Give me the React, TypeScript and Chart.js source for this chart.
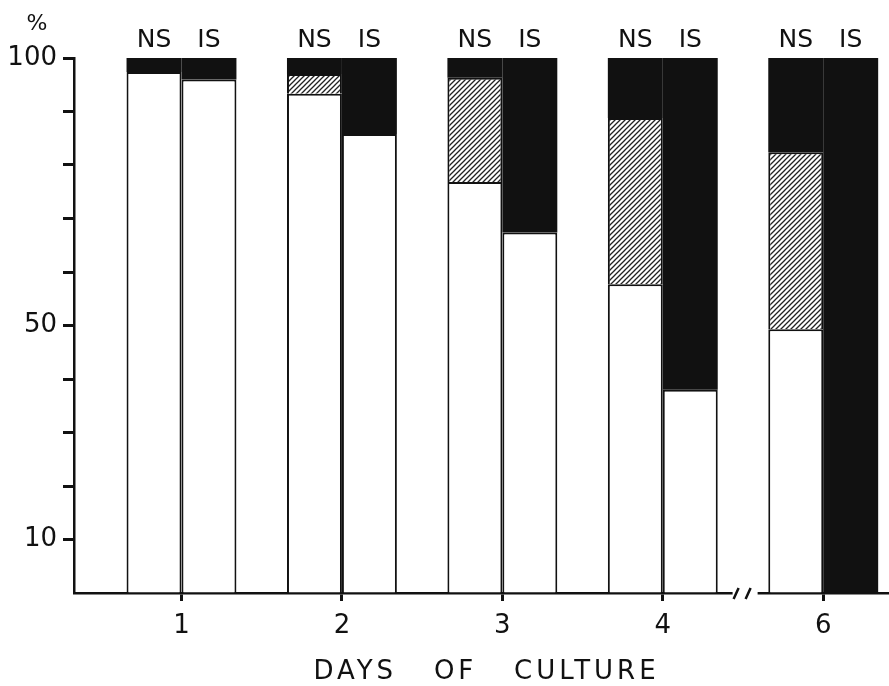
import React, { useEffect, useRef } from 'react';
import { Chart, registerables } from 'chart.js';

Chart.register(...registerables);

// ---- data ----
const dayLabels = ['1', '2', '3', '4', '6'];
const dayPositions = [1, 2, 3, 4, 5]; // axis is broken between day 4 and day 6
const groupLabels = ['NS', 'IS'];
const nsWhite = [97.4, 93.3, 76.8, 57.7, 49.3];
const nsHatched = [0, 3.7, 19.5, 31.1, 33.1];
const nsBlack = [2.6, 3.0, 3.7, 11.2, 17.6];
const isWhite = [96.0, 85.8, 67.4, 38.0, 0];
const isBlack = [4.0, 14.2, 32.6, 62.0, 100];
const yLabelled = [10, 50, 100];
const xTitle = 'DAYS   OF   CULTURE';
const yUnit = '%';

const INK = '#111111';
const FONT = '"DejaVu Sans", "Liberation Sans", sans-serif';

const pts = (vals: number[]) => vals.map((v, i) => ({ x: dayPositions[i], y: v }));

function makeHatch(target: CanvasRenderingContext2D) {
  const s = 5;
  const c = document.createElement('canvas');
  c.width = s;
  c.height = s;
  const g = c.getContext('2d')!;
  g.fillStyle = '#ffffff';
  g.fillRect(0, 0, s, s);
  g.strokeStyle = '#222222';
  g.lineWidth = 1.3;
  g.beginPath();
  g.moveTo(-1, s + 1);
  g.lineTo(s + 1, -1);
  g.moveTo(-1, 1);
  g.lineTo(1, -1);
  g.moveTo(s - 1, s + 1);
  g.lineTo(s + 1, s - 1);
  g.stroke();
  return target.createPattern(c, 'repeat');
}

const annotPlugin = {
  id: 'annot',
  afterDraw(chart: any) {
    const { ctx, chartArea, scales } = chart;
    const xs = scales.x;
    const ys = scales.y;
    ctx.save();
    ctx.fillStyle = INK;
    // NS / IS labels above each bar pair
    ctx.font = `25px ${FONT}`;
    ctx.textAlign = 'center';
    ctx.textBaseline = 'alphabetic';
    const nsMeta = chart.getDatasetMeta(0);
    const isMeta = chart.getDatasetMeta(3);
    nsMeta.data.forEach((el: any, i: number) => {
      ctx.fillText(groupLabels[0], el.x, chartArea.top - 11);
      const isEl = isMeta.data[i];
      if (isEl) ctx.fillText(groupLabels[1], isEl.x, chartArea.top - 11);
    });
    // % unit above the y axis
    ctx.font = `22px ${FONT}`;
    ctx.textBaseline = 'middle';
    ctx.fillText(yUnit, (ys.left + ys.right) / 2, chartArea.top - 34);
    // x-axis title, letter-spaced
    ctx.font = `26px ${FONT}`;
    (ctx as any).letterSpacing = '4px';
    ctx.fillText(xTitle, (chartArea.left + chartArea.right) / 2 + 5, xs.bottom - 14);
    (ctx as any).letterSpacing = '0px';
    // axis break "//" between day 4 and day 6
    const bx = xs.getPixelForValue(4.51);
    const by = chartArea.bottom;
    ctx.fillStyle = '#ffffff';
    ctx.fillRect(bx - 12, by - 3, 25, 6);
    ctx.strokeStyle = INK;
    ctx.lineWidth = 2.5;
    ctx.beginPath();
    ctx.moveTo(bx - 11, by + 6);
    ctx.lineTo(bx - 6, by - 5);
    ctx.moveTo(bx + 1, by + 6);
    ctx.lineTo(bx + 6, by - 5);
    ctx.stroke();
    ctx.restore();
  },
};

export default function App() {
  const ref = useRef<HTMLCanvasElement | null>(null);

  useEffect(() => {
    const canvas = ref.current;
    if (!canvas) return;
    const c2d = canvas.getContext('2d')!;
    const hatch = makeHatch(c2d);
    const outline = { borderColor: INK, borderWidth: 2, borderSkipped: 'bottom' as const };

    const chart = new Chart(canvas, {
      type: 'bar',
      data: {
        datasets: [
          { label: 'NS viable', stack: 'NS', data: pts(nsWhite), backgroundColor: '#ffffff', ...outline },
          { label: 'NS hatched', stack: 'NS', data: pts(nsHatched), backgroundColor: hatch as any, ...outline },
          { label: 'NS black', stack: 'NS', data: pts(nsBlack), backgroundColor: INK, borderWidth: 0 },
          { label: 'IS viable', stack: 'IS', data: pts(isWhite), backgroundColor: '#ffffff', ...outline },
          { label: 'IS black', stack: 'IS', data: pts(isBlack), backgroundColor: INK, borderWidth: 0 },
        ] as any,
      },
      options: {
        animation: false,
        responsive: true,
        maintainAspectRatio: false,
        layout: { padding: { top: 58, left: 0, right: 0, bottom: 0 } },
        categoryPercentage: 0.685,
        barPercentage: 1.0,
        plugins: {
          legend: { display: false },
          tooltip: { enabled: false },
        },
        scales: {
          x: {
            type: 'linear',
            stacked: true,
            offset: false,
            min: 0.33,
            max: 5.41,
            afterBuildTicks: (s: any) => {
              s.ticks = dayPositions.map((v) => ({ value: v }));
            },
            afterFit: (s: any) => {
              s.height = 93;
            },
            ticks: {
              autoSkip: false,
              maxRotation: 0,
              padding: 10,
              color: INK,
              font: { family: FONT, size: 26 },
              callback: (v: any) => {
                const i = dayPositions.indexOf(Number(v));
                return i >= 0 ? dayLabels[i] : '';
              },
            },
            grid: { offset: false, drawOnChartArea: false, drawTicks: true, tickLength: 8, tickWidth: 3, tickColor: INK },
            border: { display: true, color: INK, width: 2.5 },
          },
          y: {
            stacked: true,
            min: 0,
            max: 100,
            afterFit: (s: any) => {
              s.width = 74;
            },
            ticks: {
              stepSize: 10,
              autoSkip: false,
              padding: 6,
              color: INK,
              font: { family: FONT, size: 26 },
              callback: (v: any) => (yLabelled.includes(Number(v)) ? String(v) : ''),
            },
            grid: {
              drawOnChartArea: false,
              drawTicks: true,
              tickLength: 11,
              tickWidth: 3,
              tickColor: (c: any) => (c.tick && c.tick.value === 0 ? 'rgba(0,0,0,0)' : INK),
            },
            border: { display: true, color: INK, width: 2.5 },
          },
        },
      } as any,
      plugins: [annotPlugin],
    });

    return () => chart.destroy();
  }, []);

  return (
    <div style={{ position: 'absolute', left: 0, top: 0, width: 889, height: 686, background: '#ffffff' }}>
      <canvas ref={ref} style={{ display: 'block' }} />
    </div>
  );
}
